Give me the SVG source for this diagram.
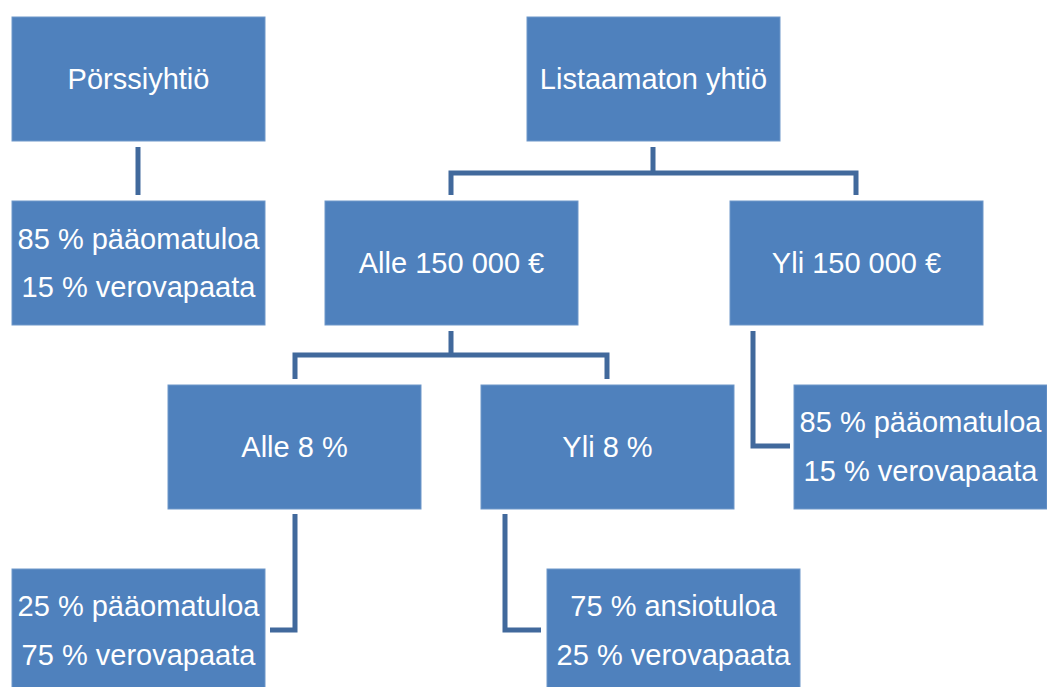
<svg xmlns="http://www.w3.org/2000/svg" width="1047" height="687" viewBox="0 0 1047 687">
<style>
.box{fill:#4F81BD;stroke:#6E97C9;stroke-width:1}
.t{fill:#FFFFFF;font-family:"Liberation Sans",Arial,sans-serif;font-size:29px;text-anchor:middle}
.c{fill:none;stroke:#41699C;stroke-width:5;stroke-linejoin:miter;stroke-linecap:butt}
</style>
<rect width="1047" height="687" fill="#FFFFFF"/>
<g id="connectors">
<path class="c" d="M138 147 V195"/>
<path class="c" d="M653 147 V173 M451 195 V173 H856 V195"/>
<path class="c" d="M451 331 V355 M295 379 V355 H607 V379"/>
<path class="c" d="M753 331 V446 H790"/>
<path class="c" d="M295 514 V630 H270"/>
<path class="c" d="M505 514 V630 H541"/>
</g>
<g id="porssiyhtio">
<rect class="box" x="12" y="17" width="253" height="124"/>
<text class="t" x="138.5" y="89">Pörssiyhtiö</text>
</g>
<g id="porssi-tulo">
<rect class="box" x="12" y="201" width="253" height="124"/>
<text class="t" x="138.5" y="249">85 % pääomatuloa</text>
<text class="t" x="138.5" y="297">15 % verovapaata</text>
</g>
<g id="listaamaton">
<rect class="box" x="527" y="17" width="253" height="124"/>
<text class="t" x="653.5" y="89">Listaamaton yhtiö</text>
</g>
<g id="alle150">
<rect class="box" x="325" y="201" width="253" height="124"/>
<text class="t" x="451.5" y="273">Alle 150 000 €</text>
</g>
<g id="yli150">
<rect class="box" x="730" y="201" width="253" height="124"/>
<text class="t" x="856.5" y="273">Yli 150 000 €</text>
</g>
<g id="alle8">
<rect class="box" x="168" y="385" width="253" height="124"/>
<text class="t" x="294.5" y="457">Alle 8 %</text>
</g>
<g id="yli8">
<rect class="box" x="481" y="385" width="253" height="124"/>
<text class="t" x="607.5" y="457">Yli 8 %</text>
</g>
<g id="yli150-tulo">
<rect class="box" x="794" y="385" width="253" height="124"/>
<text class="t" x="920.5" y="432">85 % pääomatuloa</text>
<text class="t" x="920.5" y="481">15 % verovapaata</text>
</g>
<g id="alle8-tulo">
<rect class="box" x="12" y="569" width="253" height="124"/>
<text class="t" x="138.5" y="616">25 % pääomatuloa</text>
<text class="t" x="138.5" y="665">75 % verovapaata</text>
</g>
<g id="yli8-tulo">
<rect class="box" x="547" y="569" width="253" height="124"/>
<text class="t" x="673.5" y="616">75 % ansiotuloa</text>
<text class="t" x="673.5" y="665">25 % verovapaata</text>
</g>
</svg>
